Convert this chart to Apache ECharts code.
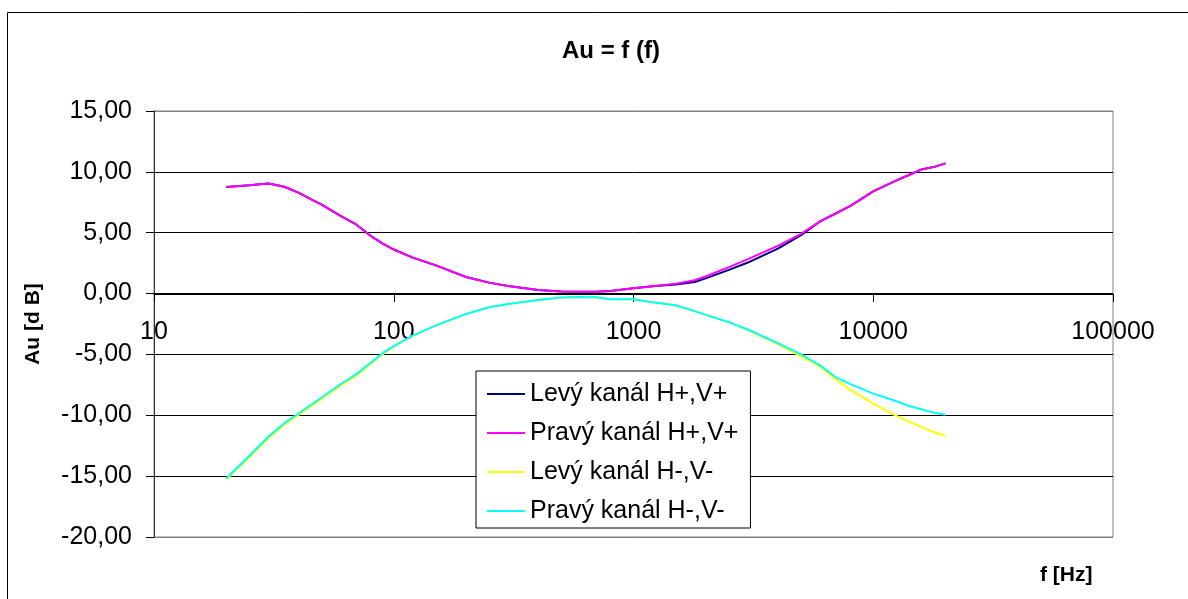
<!DOCTYPE html>
<html>
<head>
<meta charset="utf-8">
<script src="https://cdn.jsdelivr.net/npm/echarts@6/dist/echarts.min.js"></script>
<style>
html,body{margin:0;padding:0;background:#fff;}
#c{width:1188px;height:599px;}
</style>
</head>
<body>
<div id="c"></div>
<script>
const freqs = [20, 25, 30, 35, 40, 50, 60, 70, 80, 90, 100, 120, 150, 200, 250, 300, 400, 500, 600, 700, 800, 1000, 1200, 1500, 1800, 2000, 2500, 3000, 4000, 5000, 6000, 7000, 8000, 10000, 12000, 14000, 16000, 18000, 20000];
const levyPlus = [8.76, 8.9, 9.04, 8.78, 8.3, 7.3, 6.38, 5.66, 4.75, 4.1, 3.62, 2.95, 2.32, 1.36, 0.9, 0.62, 0.3, 0.17, 0.15, 0.15, 0.22, 0.43, 0.6, 0.75, 0.95, 1.25, 1.95, 2.55, 3.7, 4.8, 5.93, 6.6, 7.18, 8.4, 9.13, 9.72, 10.22, 10.41, 10.7];
const pravyPlus = [8.76, 8.9, 9.04, 8.78, 8.3, 7.3, 6.38, 5.66, 4.75, 4.1, 3.62, 2.95, 2.32, 1.36, 0.9, 0.62, 0.3, 0.17, 0.15, 0.15, 0.22, 0.43, 0.6, 0.8, 1.1, 1.4, 2.17, 2.83, 3.92, 4.9, 5.93, 6.6, 7.18, 8.4, 9.13, 9.72, 10.22, 10.41, 10.7];
const levyMinus = [-15.3, -13.45, -11.9, -10.78, -9.97, -8.65, -7.57, -6.72, -5.8, -4.97, -4.36, -3.47, -2.63, -1.69, -1.13, -0.85, -0.52, -0.32, -0.28, -0.3, -0.47, -0.47, -0.72, -0.96, -1.44, -1.75, -2.35, -3.0, -4.15, -5.15, -6.0, -7.07, -7.9, -9.05, -9.88, -10.5, -11.0, -11.4, -11.68];
const pravyMinus = [-15.2, -13.32, -11.76, -10.64, -9.85, -8.54, -7.45, -6.6, -5.7, -4.88, -4.32, -3.45, -2.61, -1.68, -1.12, -0.85, -0.52, -0.32, -0.28, -0.3, -0.47, -0.47, -0.72, -0.96, -1.44, -1.75, -2.35, -2.95, -4.07, -5.0, -5.9, -6.9, -7.42, -8.22, -8.72, -9.22, -9.52, -9.8, -9.95];
const seriesNames = ['Levý kanál H+,V+', 'Pravý kanál H+,V+', 'Levý kanál H-,V-', 'Pravý kanál H-,V-'];
const seriesColors = ['#000080', '#FF00FF', '#FFFF00', '#00FFFF'];
const yTicks = [-20, -15, -10, -5, 0, 5, 10, 15];

const allValues = [levyPlus, pravyPlus, levyMinus, pravyMinus];
const FONT = 'Liberation Sans, Arial, sans-serif';

const chart = echarts.init(document.getElementById('c'), null, {renderer: 'canvas'});
chart.setOption({
  backgroundColor: '#fff',
  animation: false,
  title: {
    text: 'Au = f (f)',
    left: 606, top: 34, textAlign: 'center',
    textStyle: {fontFamily: FONT, fontSize: 24, fontWeight: 'bold', color: '#000'}
  },
  graphic: [{
    type: 'rect', silent: true, z: -1,
    shape: {x: 7.5, y: 12.5, width: 1200, height: 600},
    style: {fill: 'none', stroke: '#000', lineWidth: 1}
  }, {
    type: 'text', left: 1040, top: 565,
    style: {text: 'f [Hz]', font: 'bold 21px ' + FONT, fill: '#000'}
  }],
  legend: {
    orient: 'vertical',
    left: 476, top: 371,
    padding: [10, 12, 4, 11],
    itemGap: 13,
    itemWidth: 38, itemHeight: 2,
    icon: 'rect',
    borderColor: '#000', borderWidth: 1,
    backgroundColor: '#fff',
    textStyle: {fontFamily: FONT, fontSize: 25, color: '#000', lineHeight: 26},
    data: seriesNames
  },
  grid: {
    left: 154, right: 75, top: 111, bottom: 62,
    show: true, borderColor: '#808080', borderWidth: 1
  },
  xAxis: {
    type: 'log', logBase: 10, min: 10, max: 100000,
    position: 'bottom', offset: -243,
    axisLine: {show: true, onZero: false, lineStyle: {color: '#000', width: 1}},
    axisTick: {show: true, length: 8, lineStyle: {color: '#000'}},
    minorTick: {show: false},
    splitLine: {show: false},
    axisLabel: {
      fontFamily: FONT, fontSize: 25, color: '#000', margin: 26,
      formatter: function (v) { return String(Math.round(v)); }
    }
  },
  yAxis: {
    type: 'value', min: -20, max: 15, interval: 5,
    name: 'Au [d B]', nameLocation: 'middle', nameGap: 110, nameRotate: 90,
    nameTextStyle: {fontFamily: FONT, fontSize: 21, fontWeight: 'bold', color: '#000'},
    axisLine: {show: true, onZero: false, lineStyle: {color: '#333', width: 1}},
    axisTick: {show: true, length: 8, lineStyle: {color: '#000'}},
    splitLine: {show: true, lineStyle: {color: ['#808080', '#000', '#000', '#000', '#000', '#000', '#000', '#808080'], width: 1}},
    axisLabel: {
      fontFamily: FONT, fontSize: 25, color: '#000', margin: 22,
      formatter: function (v) { return v.toFixed(2).replace('.', ','); }
    }
  },
  series: seriesNames.map(function (name, i) {
    return {
      name: name, type: 'line', showSymbol: false, symbol: 'none',
      color: seriesColors[i],
      lineStyle: {color: seriesColors[i], width: 2},
      data: freqs.map(function (f, j) { return [f, allValues[i][j]]; })
    };
  })
});
</script>
</body>
</html>
